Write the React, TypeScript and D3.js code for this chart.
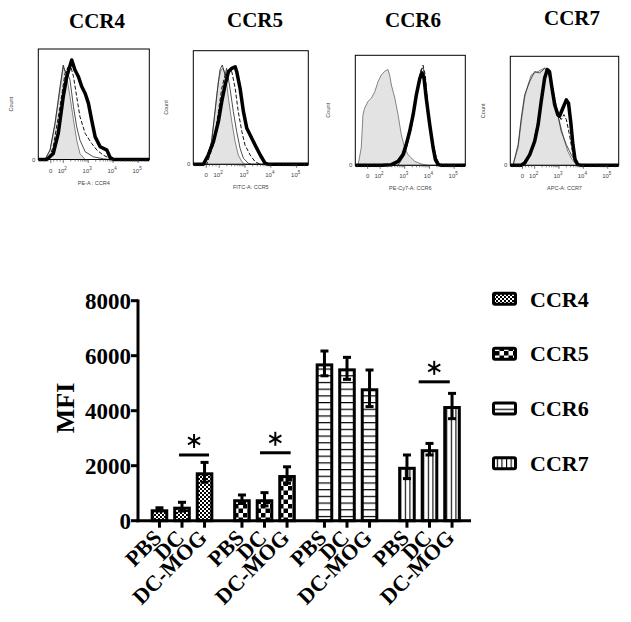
import React from "react";
import * as d3 from "d3";

const SERIF = "'Liberation Serif','Times New Roman',Times,serif";
const SANS = "'Liberation Sans',Arial,sans-serif";

// ---------------- Histogram data: [log10 fluorescence (display units), % of max] ----------------
const histTitles = ["CCR4", "CCR5", "CCR6", "CCR7"];
const histXLabels = ["PE-A : CCR4", "FITC-A: CCR5", "PE-Cy7-A: CCR6", "APC-A: CCR7"];
const histTickValues = [1.5, 2, 3, 4, 5];
const histTickLabels = ["0", "2", "3", "4", "5"];

const ccr4Iso = [[1.0,0],[1.27,0],[1.47,8.5],[1.67,32.6],[1.87,62.8],[2.0,84],[2.14,75],[2.27,57],[2.41,36],[2.54,17.5],[2.67,5.4],[2.88,0],[5.45,0]];
const ccr4Pbs = [[1.0,0],[1.27,0],[1.47,8.5],[1.67,32.6],[1.87,66],[2.0,85.5],[2.07,80],[2.14,79.5],[2.27,72],[2.41,47.7],[2.54,29.6],[2.67,17.5],[2.88,7],[3.21,2.4],[3.61,0.6],[3.88,0],[5.45,0]];
const ccr4Dc = [[1.0,0],[1.40,0],[1.60,11.5],[1.87,47.7],[2.07,78],[2.27,87],[2.41,75],[2.54,56.8],[2.67,38.7],[2.88,23.6],[3.14,14.5],[3.35,8.5],[3.61,3.9],[3.88,0.9],[4.01,0],[5.45,0]];
const ccr4DcMog = [[1.0,0],[1.34,0],[1.60,5.4],[1.80,23.6],[2.0,56.8],[2.14,74.9],[2.34,90],[2.47,81],[2.61,74.9],[2.74,66],[2.88,59.8],[3.01,50.8],[3.14,35.6],[3.28,20.5],[3.48,11.5],[3.75,8.5],[3.88,1.8],[4.01,0],[5.45,0]];

const ccr5Iso = [[1.0,0],[1.45,0],[1.65,11.1],[1.84,46.3],[1.97,72.7],[2.07,83],[2.16,84.5],[2.26,77.1],[2.36,58.1],[2.49,37.5],[2.62,19.9],[2.74,8.2],[2.88,2.3],[3.0,0],[5.45,0]];
const ccr5Pbs = [[1.0,0],[1.40,0],[1.45,0.9],[1.71,19.9],[1.91,61],[2.03,83],[2.12,87.4],[2.23,78.6],[2.29,84.5],[2.42,66.9],[2.55,46.3],[2.68,28.7],[2.81,14.1],[2.94,5.3],[3.13,0.9],[3.26,0],[5.45,0]];
const ccr5Dc = [[1.0,0],[1.52,0],[1.78,17],[1.97,46.3],[2.10,66.9],[2.23,78.6],[2.36,83],[2.49,81.5],[2.62,66.9],[2.74,46.3],[2.88,28.7],[3.0,17],[3.20,8.2],[3.39,2.3],[3.59,0],[5.45,0]];
const ccr5DcMog = [[1.0,0],[1.39,0],[1.58,8.2],[1.78,19.9],[1.97,37.5],[2.10,55.1],[2.23,69.8],[2.36,81.5],[2.49,84.5],[2.62,85.9],[2.68,81.5],[2.81,66.9],[2.94,46.3],[3.07,31.7],[3.20,25.8],[3.39,17],[3.59,8.2],[3.78,0.9],[3.91,0],[5.45,0]];

const ccr6Iso = [[1.0,0],[1.11,0],[1.24,15.8],[1.31,46],[1.38,52],[1.51,58],[1.65,61],[1.79,67],[1.92,76],[2.05,82],[2.19,85.5],[2.32,87],[2.39,82],[2.46,73],[2.60,61],[2.73,46],[2.86,27.9],[3.0,15.8],[3.13,9.7],[3.27,6.7],[3.40,3.6],[3.67,1.2],[3.94,0],[5.45,0]];
const ccr6Pbs = [[1.0,0],[2.73,0],[3.0,9.7],[3.27,34],[3.47,61],[3.65,87],[3.74,88.5],[3.83,79],[3.97,46],[4.15,18.8],[4.32,3.6],[4.48,0],[5.45,0]];
const ccr6Dc = [[1.0,0],[2.60,0],[2.86,6.7],[3.13,24.8],[3.40,55],[3.61,82],[3.74,91],[3.83,82],[3.94,52],[4.08,24.8],[4.21,9.7],[4.42,0.6],[4.55,0],[5.45,0]];
const ccr6DcMog = [[1.0,0],[2.05,0],[2.46,0.6],[2.73,3.6],[2.93,9.7],[3.06,18.8],[3.20,30.9],[3.34,46],[3.47,64],[3.61,79],[3.70,84],[3.78,79],[3.87,61],[4.01,37],[4.15,15.8],[4.24,5.2],[4.35,0.6],[4.48,0],[5.45,0]];

const ccr7Iso = [[1.0,0],[1.11,0],[1.32,15.9],[1.45,40],[1.59,62],[1.73,74],[1.86,83],[2.0,84.7],[2.14,86],[2.27,87.8],[2.41,89.3],[2.55,88.7],[2.61,83],[2.71,74],[2.82,62],[2.95,46.5],[3.09,34],[3.23,22],[3.36,12.8],[3.50,6.7],[3.64,2.1],[3.77,0],[5.45,0]];
const ccr7Pbs = [[1.0,0],[1.11,0],[1.32,19],[1.45,43.4],[1.59,64.8],[1.80,77],[2.0,86],[2.20,84.7],[2.41,88.7],[2.55,86],[2.68,74],[2.89,52.6],[3.09,31.2],[3.30,19],[3.50,9.8],[3.70,2.1],[3.91,0],[5.45,0]];
const ccr7Dc = [[1.0,0],[1.45,0],[1.73,6.7],[1.93,19],[2.14,40],[2.27,62],[2.41,83],[2.55,87.8],[2.68,80],[2.82,62],[2.95,46.5],[3.09,42],[3.20,46.5],[3.30,42],[3.43,28],[3.57,9.8],[3.70,2.1],[3.84,0],[5.45,0]];
const ccr7DcMog = [[1.0,0],[1.45,0],[1.59,2.1],[1.80,9.8],[2.0,22],[2.14,37],[2.27,58.7],[2.41,80],[2.52,87.8],[2.61,86],[2.71,71],[2.82,55.7],[2.95,46.5],[3.02,45],[3.16,52.6],[3.30,60],[3.39,57],[3.48,40],[3.57,19],[3.66,5.2],[3.77,0.6],[3.91,0],[5.45,0]];

const histIso = [ccr4Iso, ccr5Iso, ccr6Iso, ccr7Iso];
const histPbs = [ccr4Pbs, ccr5Pbs, ccr6Pbs, ccr7Pbs];
const histDc = [ccr4Dc, ccr5Dc, ccr6Dc, ccr7Dc];
const histDcMog = [ccr4DcMog, ccr5DcMog, ccr6DcMog, ccr7DcMog];

// layout of the four histogram frames
const histLayout = [
  { x: 38.3, y: 49, w: 111, h: 110.5, tx: 97, ty: 28 },
  { x: 193.3, y: 50.7, w: 115, h: 113.6, tx: 255, ty: 27 },
  { x: 355.3, y: 55.3, w: 110, h: 110, tx: 413, ty: 27 },
  { x: 510.3, y: 56.3, w: 108.4, h: 109, tx: 572, ty: 25 },
];

// ---------------- Bar chart data ----------------
const groups = ["CCR4", "CCR5", "CCR6", "CCR7"];
const conditions = ["PBS", "DC", "DC-MOG"];
const ccr4Mfi = [415, 510, 1760];
const ccr4Sd = [55, 160, 360];
const ccr5Mfi = [780, 780, 1660];
const ccr5Sd = [155, 240, 300];
const ccr6Mfi = [5720, 5540, 4815];
const ccr6Sd = [450, 400, 665];
const ccr7Mfi = [1960, 2600, 4170];
const ccr7Sd = [430, 210, 460];
const yTicks = [0, 2000, 4000, 6000, 8000];
const sigGroups = ["CCR4", "CCR5", "CCR7"];
const sigLevels = [2390, 2470, 5050];
const sigFrom = [0.87, 0.8, 0.52];
const sigTo = [2.2, 2.16, 1.9];

const meansByGroup = [ccr4Mfi, ccr5Mfi, ccr6Mfi, ccr7Mfi];
const sdByGroup = [ccr4Sd, ccr5Sd, ccr6Sd, ccr7Sd];
const patternIds = ["pat4", "pat5", "pat6", "pat7"];

function Histogram({ i }: { i: number }) {
  const L = histLayout[i];
  const x = d3.scaleLinear().domain([1, 5.45]).range([L.x, L.x + L.w]);
  const y = d3.scaleLinear().domain([0, 100]).range([L.y + L.h, L.y]);
  const line = d3.line<number[]>().x((d) => x(d[0])).y((d) => y(d[1]));
  const area = d3.area<number[]>().x((d) => x(d[0])).y0(y(0)).y1((d) => y(d[1]));
  const bottom = L.y + L.h;
  const minor: number[] = [];
  [1.08, 1.25, 1.38, 1.62, 1.75, 1.88].forEach((v) => minor.push(v));
  for (let dec = 2; dec <= 5; dec++) {
    for (let k = 2; k <= 9; k++) {
      const v = dec + Math.log10(k);
      if (v < 5.45) minor.push(v);
    }
  }
  return (
    <g>
      <text x={L.tx} y={L.ty} textAnchor="middle" fontFamily={SERIF} fontWeight="bold" fontSize={21}>
        {histTitles[i]}
      </text>
      <path d={area(histIso[i] as any) || ""} fill="#e3e3e3" stroke="#555" strokeWidth={0.7} />
      <path d={line(histPbs[i] as any) || ""} fill="none" stroke="#222" strokeWidth={0.8} />
      <path d={line(histDc[i] as any) || ""} fill="none" stroke="#111" strokeWidth={1} strokeDasharray="4,2" />
      <path d={line(histDcMog[i] as any) || ""} fill="none" stroke="#000" strokeWidth={3.5} strokeLinejoin="round" />
      <rect x={L.x} y={L.y} width={L.w} height={L.h} fill="none" stroke="#000" strokeWidth={1} />
      {minor.map((v, k) => (
        <line key={"m" + k} x1={x(v)} x2={x(v)} y1={bottom} y2={bottom + 2} stroke="#333" strokeWidth={0.6} />
      ))}
      {histTickValues.map((v, k) => (
        <line key={"t" + k} x1={x(v)} x2={x(v)} y1={bottom} y2={bottom + 3.5} stroke="#333" strokeWidth={0.7} />
      ))}
      {histTickValues.map((v, k) =>
        k === 0 ? (
          <text key={"l" + k} x={x(v)} y={bottom + 13} textAnchor="middle" fontFamily={SANS} fontSize={6} fill="#444">
            0
          </text>
        ) : (
          <text key={"l" + k} x={x(v) - 1} y={bottom + 13} textAnchor="middle" fontFamily={SANS} fontSize={6} fill="#444">
            10
            <tspan dy={-3} fontSize={4.5}>{histTickLabels[k]}</tspan>
          </text>
        )
      )}
      <text x={L.x + L.w / 2} y={bottom + 25} textAnchor="middle" fontFamily={SANS} fontSize={5.5} fill="#444">
        {histXLabels[i]}
      </text>
      <text x={L.x - 3} y={bottom + 2} textAnchor="end" fontFamily={SANS} fontSize={6} fill="#444">
        0
      </text>
      <text
        transform={`translate(${L.x - 25},${L.y + L.h / 2}) rotate(-90)`}
        textAnchor="middle"
        fontFamily={SANS}
        fontSize={5.5}
        fill="#444"
      >
        Count
      </text>
    </g>
  );
}

function BarChart() {
  const y = d3.scaleLinear().domain([0, 8000]).range([520.7, 300.7]);
  const xOuter = d3.scaleBand<string>().domain(groups).range([140.75, 470.75]);
  const xInner = d3
    .scaleBand<string>()
    .domain(conditions)
    .range([0, xOuter.bandwidth()])
    .paddingInner(0.22)
    .paddingOuter(0.44);
  const bw = xInner.bandwidth();
  const step = xInner.step();
  const cx = (g: string, c: string) => (xOuter(g) as number) + (xInner(c) as number) + bw / 2;
  const y0 = y(0);
  const axisX = 138;

  return (
    <g>
      {/* bars */}
      {groups.map((g, gi) =>
        conditions.map((c, ci) => {
          const v = meansByGroup[gi][ci];
          const sd = sdByGroup[gi][ci];
          const xc = cx(g, c);
          const top = y(v);
          return (
            <g key={g + c}>
              <rect
                x={xc - bw / 2 + 1.5}
                y={top + 1.5}
                width={bw - 3}
                height={Math.max(0, y0 - top - 1.5)}
                fill={`url(#${patternIds[gi]})`}
                stroke="#000"
                strokeWidth={3}
              />
              <line x1={xc} x2={xc} y1={y(v - sd)} y2={y(v + sd)} stroke="#000" strokeWidth={3} />
              <line x1={xc - 4} x2={xc + 4} y1={y(v + sd)} y2={y(v + sd)} stroke="#000" strokeWidth={3} />
              <line x1={xc - 4} x2={xc + 4} y1={y(v - sd)} y2={y(v - sd)} stroke="#000" strokeWidth={3} />
            </g>
          );
        })
      )}
      {/* axes */}
      <line x1={axisX} x2={axisX} y1={299.5} y2={y0 + 1.5} stroke="#000" strokeWidth={3} />
      <line x1={axisX - 1.5} x2={471} y1={y0} y2={y0} stroke="#000" strokeWidth={3} />
      {yTicks.map((t) => (
        <g key={t}>
          <line x1={axisX - 7} x2={axisX} y1={y(t)} y2={y(t)} stroke="#000" strokeWidth={3} />
          <text x={axisX - 7} y={y(t)} dy="0.35em" textAnchor="end" fontFamily={SERIF} fontWeight="bold" fontSize={23}>
            {t}
          </text>
        </g>
      ))}
      {groups.map((g) =>
        conditions.map((c) => {
          const xc = cx(g, c);
          return (
            <g key={"x" + g + c}>
              <line x1={xc} x2={xc} y1={y0} y2={y0 + 7} stroke="#000" strokeWidth={3} />
              <text
                transform={`translate(${xc - 2},${y0 + 13}) rotate(-45)`}
                dy="0.35em"
                textAnchor="end"
                fontFamily={SERIF}
                fontWeight="bold"
                fontSize={22}
              >
                {c}
              </text>
            </g>
          );
        })
      )}
      <text
        transform="translate(65,408) rotate(-90)"
        dy="0.35em"
        textAnchor="middle"
        fontFamily={SERIF}
        fontWeight="bold"
        fontSize={26}
      >
        MFI
      </text>
      {/* significance */}
      {sigGroups.map((g, k) => {
        const base = cx(g, conditions[0]);
        const x1 = base + sigFrom[k] * step;
        const x2 = base + sigTo[k] * step;
        const ly = y(sigLevels[k]);
        const sx = (x1 + x2) / 2;
        const sy = ly - 14;
        const r = 7;
        return (
          <g key={"s" + g}>
            <line x1={x1} x2={x2} y1={ly} y2={ly} stroke="#000" strokeWidth={3} />
            {[90, 30, -30].map((a) => {
              const rad = (a * Math.PI) / 180;
              return (
                <line
                  key={a}
                  x1={sx - r * Math.cos(rad)}
                  y1={sy - r * Math.sin(rad)}
                  x2={sx + r * Math.cos(rad)}
                  y2={sy + r * Math.sin(rad)}
                  stroke="#000"
                  strokeWidth={2}
                />
              );
            })}
          </g>
        );
      })}
      {/* legend */}
      {groups.map((g, gi) => {
        const legendY = d3.scaleLinear().domain([0, 3]).range([298.8, 463.3]);
        const ly = legendY(gi);
        return (
          <g key={"lg" + g}>
            <rect x={493.5} y={ly - 5.5} width={22} height={11} rx={1.5} fill={`url(#${patternIds[gi]})`} stroke="#000" strokeWidth={3} />
            <text x={530} y={ly} dy="0.35em" fontFamily={SERIF} fontWeight="bold" fontSize={22}>
              {g}
            </text>
          </g>
        );
      })}
    </g>
  );
}

export default function App() {
  return (
    <svg
      width={631}
      height={622}
      viewBox="0 0 631 622"
      style={{ position: "absolute", left: 0, top: 0, background: "#fff" }}
    >
      <defs>
        <pattern id="pat4" width={4} height={4} patternUnits="userSpaceOnUse">
          <rect width={4} height={4} fill="#fff" />
          <rect width={2} height={2} fill="#000" />
          <rect x={2} y={2} width={2} height={2} fill="#000" />
        </pattern>
        <pattern id="pat5" width={9} height={9} patternUnits="userSpaceOnUse">
          <rect width={9} height={9} fill="#fff" />
          <rect width={4.5} height={4.5} fill="#000" />
          <rect x={4.5} y={4.5} width={4.5} height={4.5} fill="#000" />
        </pattern>
        <pattern id="pat6" width={6.7} height={6.7} patternUnits="userSpaceOnUse">
          <rect width={6.7} height={6.7} fill="#fff" />
          <rect y={0} width={6.7} height={1.2} fill="#000" />
        </pattern>
        <pattern id="pat7" width={4.6} height={10} patternUnits="userSpaceOnUse">
          <rect width={4.6} height={10} fill="#fff" />
          <rect x={0} width={1.1} height={10} fill="#000" />
        </pattern>
      </defs>
      <rect width={631} height={622} fill="#fff" />
      {histTitles.map((_, i) => (
        <Histogram key={i} i={i} />
      ))}
      <BarChart />
    </svg>
  );
}
